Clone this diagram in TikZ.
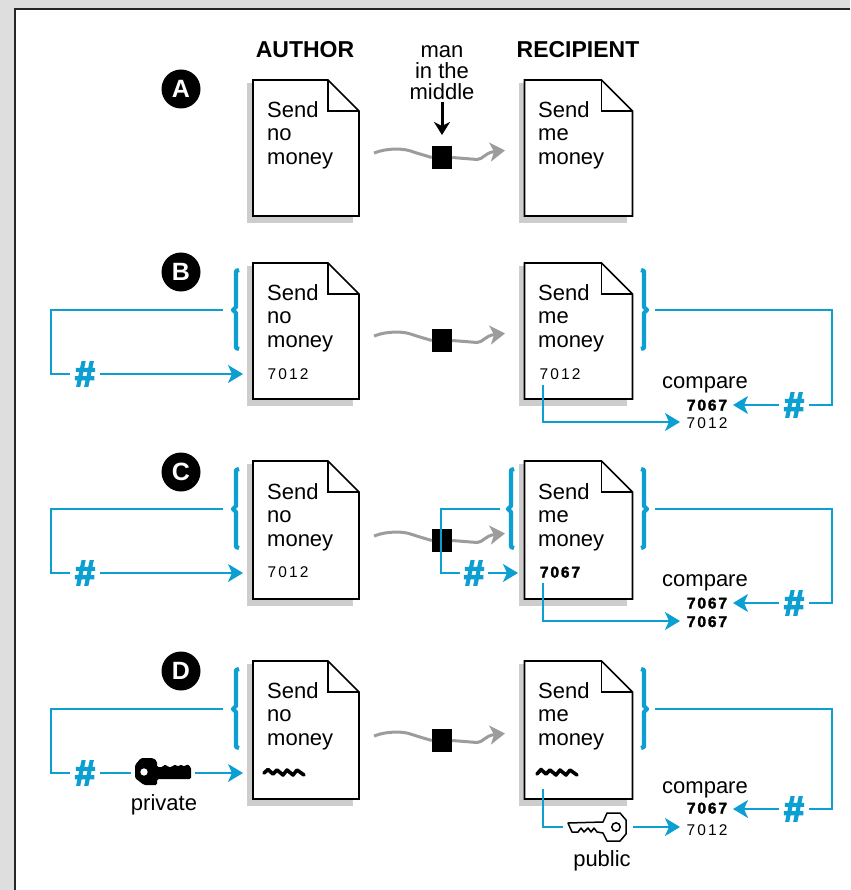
\documentclass[tikz,border=0pt]{standalone}
\usepackage{fontspec}
\setmainfont{Liberation Sans}
\newfontfamily\numfont[LetterSpace=14]{Liberation Sans}
\newfontfamily\numboldfont[LetterSpace=12,FakeBold=2]{Liberation Sans Bold}
\newfontfamily\hashfont[FakeBold=4]{Liberation Sans Bold}
\usetikzlibrary{arrows.meta}
\definecolor{cblue}{HTML}{0C9FD2}
\definecolor{cgrey}{HTML}{9C9C9C}
\definecolor{cshadow}{HTML}{CDCDCD}
\definecolor{cbg}{HTML}{DEDEDE}
\tikzset{
  wire/.style={draw=cblue,line width=1.7pt},
  bluearrow/.style={wire,-{Stealth[length=15pt,width=18pt,inset=4pt]}},
  bracket/.style={draw=cblue,line width=4.2pt,line join=round},
  greyline/.style={draw=cgrey,line width=3pt},
  greyarrow/.style={greyline,-{Stealth[length=15pt,width=19pt,inset=4pt]}},
  mitmbox/.style={fill=black,inner sep=0,minimum width=20pt,minimum height=23pt},
  txt/.style={font=\fontsize{22}{21}\selectfont,inner sep=0,anchor=base},
  headtxt/.style={font=\fontsize{23}{23}\selectfont\bfseries,inner sep=0,anchor=base},
  doctext/.style={font=\fontsize{22}{23.6}\selectfont,inner sep=0,anchor=north west,align=left},
  num/.style={font=\fontsize{15.5}{16}\numfont,inner sep=0,anchor=base},
  numb/.style={font=\fontsize{15.5}{16}\numboldfont,inner sep=0,anchor=base},
  hashmark/.style={font=\fontsize{36}{36}\hashfont,text=cblue,inner sep=0,minimum width=30pt,minimum height=27pt},
  badge/.style={circle,fill=black,text=white,inner sep=0,minimum size=39pt,font=\fontsize{25}{25}\selectfont\bfseries},
  sig/.style={draw=black,line width=3.6pt,line cap=round,line join=round},
  slot/.style={inner sep=0,minimum height=26pt},
}
% page: name, left, top, width, height
\newcommand{\docpage}[5]{%
  \fill[cshadow] (#2-6,#3+3) rectangle (#2,#3+#5+7);
  \fill[cshadow] (#2-6,#3+#5) rectangle (#2+#4-6,#3+#5+7);
  \draw[fill=white,line width=1.7pt,line join=miter] (#2,#3) -- (#2+#4-31,#3) -- (#2+#4,#3+31) -- (#2+#4,#3+#5) -- (#2,#3+#5) -- cycle;
  \draw[line width=1.4pt] (#2+#4-31,#3) -- (#2+#4-31,#3+31) -- (#2+#4,#3+31);
  \coordinate (#1) at (#2,#3);
}
\newcommand{\leftbr}[2]{%
  \draw[bracket] (#1+8,#2-40) -- (#1+5,#2-39) -- (#1+5,#2-3) -- (#1+2,#2) -- (#1+5,#2+3) -- (#1+5,#2+38) -- (#1+8,#2+39);
}
\newcommand{\rightbr}[2]{%
  \draw[bracket] (#1-8,#2-40) -- (#1-5,#2-39) -- (#1-5,#2-3) -- (#1-2,#2) -- (#1-5,#2+3) -- (#1-5,#2+38) -- (#1-8,#2+39);
}
% man in the middle link: name, square centre y
\newcommand{\mitmlink}[2]{%
  \node[mitmbox] (#1sq) at (442,#2) {};
  \coordinate (#1ws) at (374,#2-4.5);
  \coordinate (#1we) at (505,#2-7);
  \draw[greyline] (#1ws) .. controls (388,#2-10) and (405,#2-9) .. (412,#2-6) .. controls (418,#2-4) and (425,#2-2) .. (#1sq.west);
  \draw[greyarrow] (#1sq.east) -- (477,#2+2) .. controls (483,#2+2) and (485,#2-5) .. (#1we);
}
% left hash loop: name, upper y, lower y
\newcommand{\leftloop}[3]{%
  \coordinate (#1lo) at (223,#2);
  \coordinate (#1lt) at (243,#3);
  \node[hashmark] (#1lh) at (85,#3) {\#};
  \draw[wire] (#1lo) -- (51,#2) |- (#1lh.west);
}
% right hash loop: name, upper y, lower y
\newcommand{\rightloop}[3]{%
  \coordinate (#1ro) at (655,#2);
  \coordinate (#1rt) at (733,#3);
  \node[hashmark] (#1rh) at (794,#3) {\#};
  \draw[wire] (#1ro) -- (832,#2) |- (#1rh.east);
  \draw[bluearrow] (#1rh.west) -- (#1rt);
}
\begin{document}
\begin{tikzpicture}[x=1pt,y=-1pt]
\useasboundingbox (0,0) rectangle (850,890);
\fill[cbg] (0,0) rectangle (850,890);
\fill[white] (15,9) rectangle (850,890);
\draw[line width=2pt,black!85] (15,890) -- (15,9) -- (850,9);

\node[headtxt] (author) at (305,58) {AUTHOR};
\node[headtxt] (recipient) at (578,58) {RECIPIENT};
\node[font=\fontsize{22}{21}\selectfont,inner sep=0,align=center,anchor=north] (mitm) at (442,45) {man\\in the\\middle};

% Row A
\node[badge] (ba) at (181,89) {A};
\docpage{da}{253}{80}{106}{136}
\docpage{ra}{524.5}{80}{108}{136}
\node[doctext] (ta) at (267,101) {Send\\no\\money};
\node[doctext] (ua) at (538,101) {Send\\me\\money};
\mitmlink{a}{157.5}
\coordinate (mitmtip) at (442,135);
\draw[line width=3pt,-{Stealth[length=13pt,width=16pt,inset=4pt]}] (mitm.south) ++(0,3) -- (mitmtip);

% Row B
\node[badge] (bb) at (181,272) {B};
\docpage{db}{253}{263}{106}{136}
\docpage{rb}{524.5}{263}{108}{136}
\node[doctext] (tb) at (267,284) {Send\\no\\money};
\node[doctext] (ub) at (538,284) {Send\\me\\money};
\node[num] (nb) at (288,379.5) {7012};
\node[num] (mb) at (560,379.5) {7012};
\mitmlink{b}{340.5}
\leftbr{231}{310}
\rightbr{649}{310}
\leftloop{b}{310}{374}
\draw[bluearrow] (blh.east) -- (blt);
\rightloop{b}{310}{405}
\node[txt] (cb) at (705,388) {compare};
\node[numb] (xb) at (707,410.5) {7067};
\node[num] (yb) at (707,428.5) {7012};
\coordinate (bs) at (543,385);
\coordinate (be) at (680,422);
\draw[bluearrow] (bs) |- (be);

% Row C
\node[badge] (bc) at (181,472) {C};
\docpage{dc}{253}{461}{106}{138}
\docpage{rc}{524.5}{461}{108}{138}
\node[doctext] (tc) at (267,483) {Send\\no\\money};
\node[doctext] (uc) at (538,483) {Send\\me\\money};
\node[num] (nc) at (288,577.5) {7012};
\node[numb] (mc) at (560,577.5) {7067};
\mitmlink{c}{540.5}
\leftbr{231}{509}
\leftbr{506}{509}
\rightbr{649}{509}
\leftloop{c}{509}{573}
\draw[bluearrow] (clh.east) -- (clt);
\coordinate (cmo) at (500,509);
\coordinate (cmt) at (518,573);
\node[hashmark,minimum width=28pt] (cmh) at (474,573) {\#};
\draw[wire] (cmo) -- (441,509) |- (cmh.west);
\draw[bluearrow] (cmh.east) -- (cmt);
\rightloop{c}{509}{603}
\node[txt] (cc) at (705,586) {compare};
\node[numb] (xc) at (707,608.5) {7067};
\node[numb] (yc) at (707,627) {7067};
\coordinate (cs) at (543,583);
\coordinate (ce) at (680,621);
\draw[bluearrow] (cs) |- (ce);

% Row D
\node[badge] (bd) at (181,671) {D};
\docpage{dd}{253}{661}{106}{138}
\docpage{rd}{524.5}{661}{108}{138}
\node[doctext] (td) at (267,682) {Send\\no\\money};
\node[doctext] (ud) at (538,682) {Send\\me\\money};
\draw[sig] (264,773) -- (268,769.5) -- (273,774) -- (277,770) -- (283,775) -- (287,770) -- (293,775) -- (297,770) -- (304,775);
\draw[sig] (537,774) -- (541,769.5) -- (546,774) -- (550,770) -- (556,775) -- (560,770) -- (566,775) -- (570,770) -- (577,775);
\mitmlink{d}{740.5}
\leftbr{231}{709}
\rightbr{649}{709}
\leftloop{d}{709}{773}
\node[slot,minimum width=64pt] (prk) at (163,773) {};
\draw[wire] (dlh.east) -- (prk.west);
\draw[bluearrow] (prk.east) -- (dlt);
% private key
\fill[even odd rule,rounded corners=1.5pt] (141,758) -- (153,758) -- (157,761) -- (157,767) -- (163,767) -- (165,764) -- (168,767) -- (172,767) -- (175,764) -- (178,767) -- (181,764) -- (184,767) -- (187,764) -- (191,767) -- (191,779) -- (157,779) -- (157,785) -- (144,785) -- (135,778) -- (135,765) -- cycle (144,772) circle[radius=3.8];
\node[txt] (prl) at (164,810) {private};
\rightloop{d}{709}{809}
\node[txt] (cd) at (705,793) {compare};
\node[numb] (xd) at (707,813.5) {7067};
\node[num] (yd) at (707,835) {7012};
\coordinate (ds) at (543,789);
\node[slot,minimum width=70pt] (puk) at (598,827) {};
\coordinate (de) at (680,827);
\draw[wire] (ds) |- (puk.west);
\draw[bluearrow] (puk.east) -- (de);
% public key
\draw[line width=1.5pt,line join=round] (568,823) -- (603,822) -- (607,813) -- (620,813) -- (626,820) -- (626,834) -- (620,841) -- (607,841) -- (603,833) -- (597,832) -- (594,828) -- (591,832) -- (588,828) -- (584,832) -- (581,828) -- (578,832) -- (572,832) -- cycle;
\draw[line width=1.5pt] (616,827) circle[radius=4.2];
\node[txt] (pul) at (602,866) {public};
\end{tikzpicture}
\end{document}
